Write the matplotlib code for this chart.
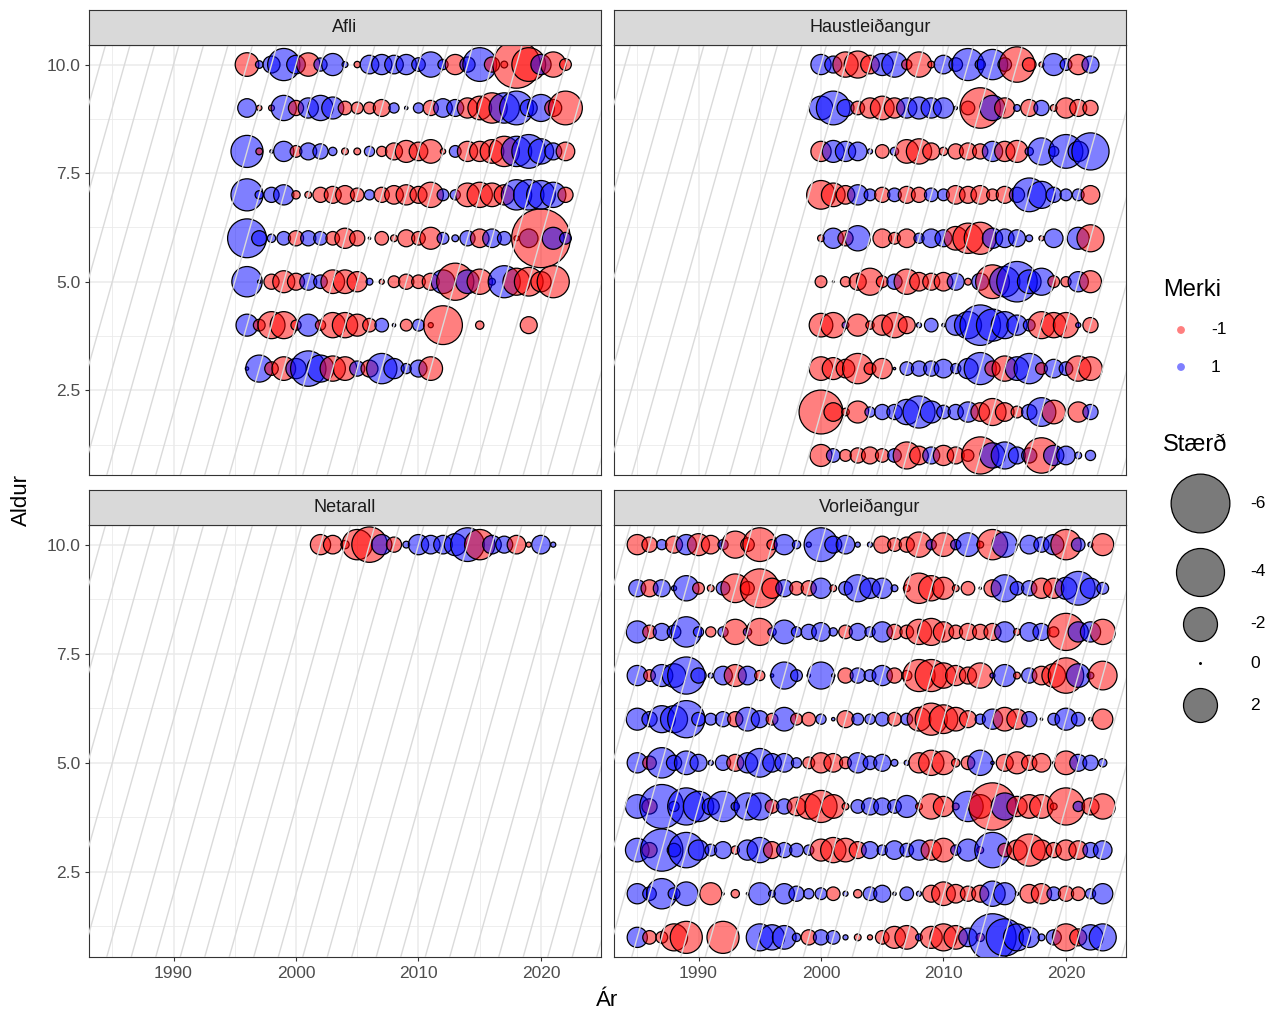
import numpy as np
import matplotlib
matplotlib.use('Agg')
import matplotlib.pyplot as plt

nan = np.nan
plt.rcParams['font.family'] = ['Liberation Sans', 'DejaVu Sans']

# ---------------- data (sign: red = negative, blue = positive; size = |value|) -------------
afli_years = [1996, 1997, 1998, 1999, 2000, 2001, 2002, 2003, 2004, 2005, 2006, 2007, 2008, 2009,
              2010, 2011, 2012, 2013, 2014, 2015, 2016, 2017, 2018, 2019, 2020, 2021, 2022]
afli = {
    10: [-0.97, 0.10, 0.50, 1.80, 0.60, -0.95, 0.30, 0.85, 0.06, -0.07, 0.60, 0.71, 0.60, 0.71,
         0.32, 1.11, 0.18, -0.71, 0.40, 1.98, -0.40, -0.08, -3.90, -1.98, 0.71, -1.11, -0.24],
    9: [0.60, -0.05, -0.06, 1.11, -0.40, 0.71, 1.11, 0.84, -0.32, -0.24, -0.24, -0.50, 0.18, 0.02,
        0.18, -0.40, 0.60, 0.50, -0.71, -0.97, -1.60, 1.60, 1.98, 0.50, 1.27, -0.50, -1.98],
    8: [1.79, -0.08, 0.02, 0.71, -0.24, 0.50, 0.40, 0.12, -0.08, -0.08, 0.18, -0.18, -0.50, -0.84,
        -0.60, -0.97, -0.05, 0.24, -0.71, -0.71, -0.97, -1.60, 1.60, 1.98, 1.11, 0.50, -0.60],
    7: [1.79, 0.12, 0.40, 0.71, -0.12, -0.08, -0.40, -0.50, -0.60, -0.32, 0.18, -0.40, -0.60, -0.71,
        -0.50, -1.11, 0.24, 0.18, -0.97, -1.11, -0.97, -0.71, 1.60, 1.60, 1.43, 1.11, -0.40],
    6: [2.62, 0.40, 0.12, 0.32, -0.40, 0.40, 0.32, -0.32, -0.71, -0.40, 0.01, -0.32, -0.08, -0.50,
        -0.32, -0.84, 0.24, 0.08, 0.40, -0.60, 0.60, 0.32, -0.045, 0.60, -6.00, 0.84, 0.24],
    5: [1.60, 0.02, -0.40, -0.84, -0.50, 0.50, 0.32, -0.97, -0.97, -0.71, 0.08, -0.045, -0.24, -0.40,
        -0.32, -0.50, 0.97, -2.40, 0.97, -1.11, 0.08, 1.79, -1.27, -1.43, -0.71, -1.79, nan],
    4: [0.84, -0.24, -1.27, -1.27, -0.18, 0.84, -0.18, -1.11, -1.11, -0.84, -0.32, 0.32, 0.02, -0.24,
        0.24, -0.045, -2.62, nan, nan, -0.12, nan, nan, nan, -0.50, nan, nan, nan],
    3: [0.02, 1.27, -0.32, -0.97, 0.71, 2.18, 1.27, -1.11, -0.97, 0.40, -0.50, 1.60, 0.71, 0.18,
        0.50, -0.97, nan, nan, nan, nan, nan, nan, nan, nan, nan, nan, nan],
}

haust_years = [2000, 2001, 2002, 2003, 2004, 2005, 2006, 2007, 2008, 2009, 2010, 2011, 2012,
               2013, 2014, 2015, 2016, 2017, 2018, 2019, 2020, 2021, 2022]
haust = {
    10: [0.71, 0.50, -1.11, -1.27, -0.60, 0.84, 1.11, -0.18, -1.11, -0.08, 0.60, 0.32, 1.79,
         0.18, 1.60, 0.32, -2.18, -0.32, -0.045, 0.84, 0.24, -0.71, 0.50],
    9: [0.97, 1.98, 0.50, -0.32, -0.71, -0.97, -0.71, 0.71, 0.84, 0.71, 0.71, 0.02, -0.32,
        -2.85, 1.11, -0.71, 0.08, -0.50, 0.40, -0.08, -0.71, -0.50, -0.40],
    8: [-0.71, 0.84, 0.71, 0.60, 0.045, -0.32, 0.12, -0.97, -1.11, -0.50, -0.12, -0.40, -0.50,
        -0.40, 0.71, -0.71, -0.84, 0.12, 1.27, 0.18, 1.98, 0.71, 2.40],
    7: [-1.43, -0.97, -0.60, 0.71, 0.24, -0.40, 0.32, -0.50, -0.40, 0.32, 0.24, -0.60, -0.50,
        -0.60, -0.24, -0.50, 0.40, 1.98, 1.27, 0.40, 0.24, 0.24, -0.60],
    6: [-0.08, 0.71, -0.40, 1.11, nan, -0.60, -0.24, -0.60, 0.18, 0.60, 0.50, -0.97, -1.60,
        -1.79, 0.71, 0.60, 0.50, 0.08, -0.045, 0.60, nan, 0.84, -1.27],
    5: [-0.24, 0.005, -0.18, -0.50, -1.27, -0.24, 0.40, -1.11, -0.60, -0.50, -0.60, 0.50, -0.08,
        0.50, -1.98, 1.60, 2.85, 0.97, 1.27, -0.24, -0.18, 0.71, -0.84],
    4: [-0.97, -1.11, 0.08, -0.84, -0.12, -0.71, -1.11, -0.50, 0.045, 0.32, 0.02, 0.71, 1.27,
        2.85, 1.79, 1.27, 0.71, 0.24, -1.27, -1.11, -1.11, 0.045, -0.40],
    3: [-0.97, -0.84, -0.60, -1.60, -0.24, -0.71, 0.01, 0.32, 0.40, 0.40, 0.60, 0.18, 0.71,
        1.79, -0.40, -1.11, 0.97, 1.60, -0.24, 0.60, 0.32, -1.11, -0.97],
    2: [-3.35, -0.60, -0.10, -0.84, 0.18, 0.40, 0.40, 1.11, 1.79, 0.84, 0.32, 0.40, 0.71,
        -0.60, -1.27, -0.60, -0.24, 0.40, 1.43, -0.97, nan, -0.71, 0.40],
    1: [-0.84, 0.32, -0.24, -0.40, -0.50, -0.32, 0.32, -1.27, -0.60, 0.50, -0.71, -0.50, -0.24,
        -2.40, 1.11, 1.27, 0.50, 0.40, -2.18, 0.71, 0.60, 0.08, 0.18],
}

net_years = [2002, 2003, 2004, 2005, 2006, 2007, 2008, 2009, 2010, 2011, 2012, 2013, 2014,
             2015, 2016, 2017, 2018, 2019, 2020, 2021]
net = {
    10: [-0.71, -0.60, -0.12, -1.60, -2.18, 0.71, -0.40, 0.08, 0.71, 0.60, 0.60, 0.84, 1.98,
         -1.60, 0.60, 0.50, -0.60, -0.045, 0.60, 0.045],
}

vor_years = [1985, 1986, 1987, 1988, 1989, 1990, 1991, 1992, 1993, 1994, 1995, 1996, 1997,
             1998, 1999, 2000, 2001, 2002, 2003, 2004, 2005, 2006, 2007, 2008, 2009, 2010,
             2011, 2012, 2013, 2014, 2015, 2016, 2017, 2018, 2019, 2020, 2021, 2022, 2023]
vor = {
    10: [-0.71, -0.40, 0.18, -0.50, 0.71, -0.84, -0.60, 0.18, -1.27, -0.32, -1.98, -0.18, 0.71,
         0.12, 0.045, 1.98, 0.50, 0.60, 0.045, 0.045, -0.50, -0.32, -0.40, -1.11, 0.18, -0.97,
         0.18, 0.97, -0.08, -1.60, 1.11, 0.01, 0.60, 0.40, 0.71, -1.60, 0.32, 0.045, -0.84],
    9: [0.50, -0.50, 0.50, 0.045, 1.11, -0.24, -0.08, 0.32, -1.43, -0.32, -2.62, -0.71, 0.50,
        -0.32, -0.40, 0.71, -0.08, 0.32, 1.27, 0.71, 0.71, 0.08, -0.08, -1.60, -1.11, -0.84,
        -0.08, -0.32, 0.01, -0.50, 1.27, 0.32, 0.40, -0.71, -0.71, 0.84, 1.98, 0.71, 0.24],
    8: [0.84, -0.32, 0.50, 0.32, 1.60, 0.18, -0.18, 0.18, -1.11, 0.12, -1.27, 0.12, 0.97,
        0.18, 0.40, 0.60, 0.12, -0.32, 0.50, 0.18, 0.71, -0.40, -0.32, -1.11, -1.27, -0.71,
        -0.32, -0.50, -0.40, -0.50, 0.71, -0.08, 0.60, 0.50, -0.18, -2.40, 0.71, 0.71, -1.11],
    7: [0.71, -0.24, 0.84, 0.97, 2.40, 0.40, 0.045, 0.60, -0.84, 0.60, -0.18, 0.02, 1.27,
        0.24, 0.02, 1.27, 0.02, -0.40, 0.40, 0.24, 0.71, -0.40, -0.18, -1.79, -1.79, -1.11,
        -0.71, -0.50, -1.11, 0.045, 0.84, -0.08, 0.40, -0.60, -0.97, -2.18, 0.97, 0.08, -1.43],
    6: [0.84, 0.40, 1.27, 1.27, 2.40, 0.32, 0.24, 0.40, -0.40, 0.97, 0.50, -0.24, 0.97,
        -0.24, -0.32, 0.18, 0.02, -0.50, 0.24, 0.18, 0.32, -0.32, 0.24, -0.97, -1.79, -1.43,
        -0.97, -0.50, 0.18, 0.71, -0.97, -0.71, 0.40, 0.01, 0.24, 0.84, 0.32, 0.02, -0.71],
    5: [0.71, -0.32, 1.60, 0.40, 0.97, 0.50, 0.045, 0.40, -0.50, 0.71, 1.43, 0.60, 0.60,
        0.18, -0.24, -0.71, -0.60, -0.24, 0.71, 0.32, 0.50, 0.08, 0.045, -0.71, -1.11, -0.97,
        -0.12, -0.32, 1.11, 0.02, -0.50, -0.84, -0.40, -0.60, 0.01, -0.97, 0.50, 0.40, 0.12],
    4: [0.97, -0.40, 3.35, 0.18, 2.40, 1.60, 0.50, 1.60, 0.12, 1.27, 1.27, -0.32, 0.40,
        -0.60, -1.11, -1.79, -0.97, -0.08, 0.32, 0.50, 0.50, 0.32, 0.84, -0.08, -1.11, -0.71,
        -0.08, 1.60, -0.97, -3.88, 1.27, -0.71, -0.97, -0.97, -0.08, -2.40, 0.18, -0.50, -1.11],
    3: [0.97, -0.40, 3.10, 0.32, 2.18, 0.71, 0.24, 0.50, -0.12, 0.71, 1.11, -0.50, 0.40,
        0.32, 0.18, -0.84, -1.11, -0.97, -0.50, 0.50, 0.18, 0.60, 0.32, 0.71, -0.71, -0.97,
        0.18, 0.84, -0.08, 2.18, -0.32, -0.71, -1.79, -0.71, -0.40, -0.71, -0.60, 0.40, 0.60],
    2: [0.71, 0.32, 1.60, 0.24, 0.97, nan, -0.84, 0.01, -0.12, 0.01, 0.84, 0.08, 0.71,
        0.40, 0.18, 0.24, -0.32, 0.045, -0.12, 0.32, 0.50, 0.02, 0.32, 0.045, -0.50, -0.97,
        -0.60, -0.40, -0.50, 1.11, 0.84, 0.02, -0.60, -0.71, 0.32, -0.40, -0.32, 0.18, 0.71],
    1: [0.71, -0.32, -0.24, -1.27, -1.79, nan, nan, -1.79, nan, nan, 1.27, 1.11, 0.97,
        0.12, -0.40, 0.40, 0.32, 0.045, -0.08, -0.045, -0.32, -0.84, -0.97, 0.08, -0.84, -1.27,
        -0.97, 0.60, -0.12, 3.88, 2.40, 1.27, 0.71, 0.08, 0.40, -1.27, -0.50, 1.11, 1.27],
}

panel_titles = ["Afli", "Haustleiðangur", "Netarall", "Vorleiðangur"]
x_ticks = [1990, 2000, 2010, 2020]
y_ticks = [2.5, 5.0, 7.5, 10.0]
y_tick_labels = ["2.5", "5.0", "7.5", "10.0"]
sign_labels = ["-1", "1"]
size_legend_values = [-6, -4, -2, 0, 2]

# ---------------- figure -------------
W, H = 1281, 1016
fig = plt.figure(figsize=(W / 100, H / 100), dpi=100)

RED = (1.0, 0.0, 0.0, 0.5)
BLUE = (0.0, 0.0, 1.0, 0.5)
S = 298.0  # marker area (pt^2) per unit |value|
GRID = '#EBEBEB'
DARK = '#333333'


def px_axes(x0, y0, x1, y1):
    return fig.add_axes([x0 / W, 1 - y1 / H, (x1 - x0) / W, (y1 - y0) / H])


panels = [
    (panel_titles[0], afli_years, afli, (89, 45, 601, 475), (89, 10, 601, 45), True, False),
    (panel_titles[1], haust_years, haust, (614, 45, 1126, 475), (614, 10, 1126, 45), False, False),
    (panel_titles[2], net_years, net, (89, 525, 601, 957), (89, 490, 601, 525), True, True),
    (panel_titles[3], vor_years, vor, (614, 525, 1126, 957), (614, 490, 1126, 525), False, True),
]

for title, years, data, box, sbox, show_y, show_x in panels:
    ax = px_axes(*box)
    ax.set_xlim(1983.1, 2024.9)
    ax.set_ylim(0.55, 10.45)
    ax.set_xticks(x_ticks)
    ax.set_xticks([1985, 1995, 2005, 2015], minor=True)
    ax.set_yticks(y_ticks)
    ax.set_yticklabels(y_tick_labels)
    ax.set_yticks([1.25, 3.75, 6.25, 8.75], minor=True)
    ax.grid(which='major', color=GRID, lw=1.1)
    ax.grid(which='minor', color=GRID, lw=0.6)
    ax.set_axisbelow(True)
    for sp in ax.spines.values():
        sp.set_color(DARK)
        sp.set_linewidth(0.8)
    ax.tick_params(which='minor', length=0)
    ax.tick_params(which='major', length=3.2, width=0.8, color=DARK,
                   labelsize=12.5, labelcolor='#4D4D4D', pad=3)
    ax.tick_params(axis='x', bottom=show_x, labelbottom=show_x)
    ax.tick_params(axis='y', left=show_y, labelleft=show_y)

    xs, ys, vs = [], [], []
    for age, vals in data.items():
        for yr, v in zip(years, vals):
            if not np.isnan(v):
                xs.append(yr)
                ys.append(age)
                vs.append(v)
    xs = np.array(xs, float)
    ys = np.array(ys, float)
    vs = np.array(vs, float)
    order = np.lexsort((ys, xs))
    xs, ys, vs = xs[order], ys[order], vs[order]
    cols = [RED if v < 0 else BLUE for v in vs]
    ax.scatter(xs, ys, s=S * np.abs(vs), facecolors=cols, edgecolors='black',
               linewidths=0.9, zorder=3)

    # cohort guide lines (year - age = even)
    for c in range(1960, 2032, 2):
        ax.plot([c, c + 12], [0, 12], color='#DADADA', lw=1.0, zorder=4)

    sax = px_axes(*sbox)
    sax.set_facecolor('#D9D9D9')
    sax.set_xticks([])
    sax.set_yticks([])
    for sp in sax.spines.values():
        sp.set_color(DARK)
        sp.set_linewidth(0.8)
    sax.text(0.5, 0.5, title, ha='center', va='center', fontsize=13, color='#1A1A1A',
             transform=sax.transAxes)

fig.text(607 / W, 1 - 1000 / H, "Ár", ha='center', va='center', fontsize=16)
fig.text(21 / W, 1 - 500 / H, "Aldur", ha='center', va='center', fontsize=16, rotation=90)

# ---------------- legends -------------
lax = fig.add_axes([0, 0, 1, 1], facecolor='none')
lax.set_xlim(0, W)
lax.set_ylim(H, 0)
lax.axis('off')

lax.text(1163, 290, "Merki", ha='left', va='center', fontsize=17)
lax.scatter([1181, 1181], [330, 367], s=32, facecolors=[RED, BLUE], edgecolors='none')
lax.text(1211, 330, sign_labels[0], ha='left', va='center', fontsize=12.5)
lax.text(1211, 367, sign_labels[1], ha='left', va='center', fontsize=12.5)

lax.text(1163, 445, "Stærð", ha='left', va='center', fontsize=17)
leg_y = [503, 572, 624, 663, 705]
for v, yy in zip(size_legend_values, leg_y):
    lax.scatter([1200], [yy], s=S * abs(v) + 1.5, facecolors='#7A7A7A', edgecolors='black',
                linewidths=0.9)
    lax.text(1250, yy, str(v), ha='left', va='center', fontsize=12.5)

fig.savefig('out.png', dpi=100, facecolor='white')
